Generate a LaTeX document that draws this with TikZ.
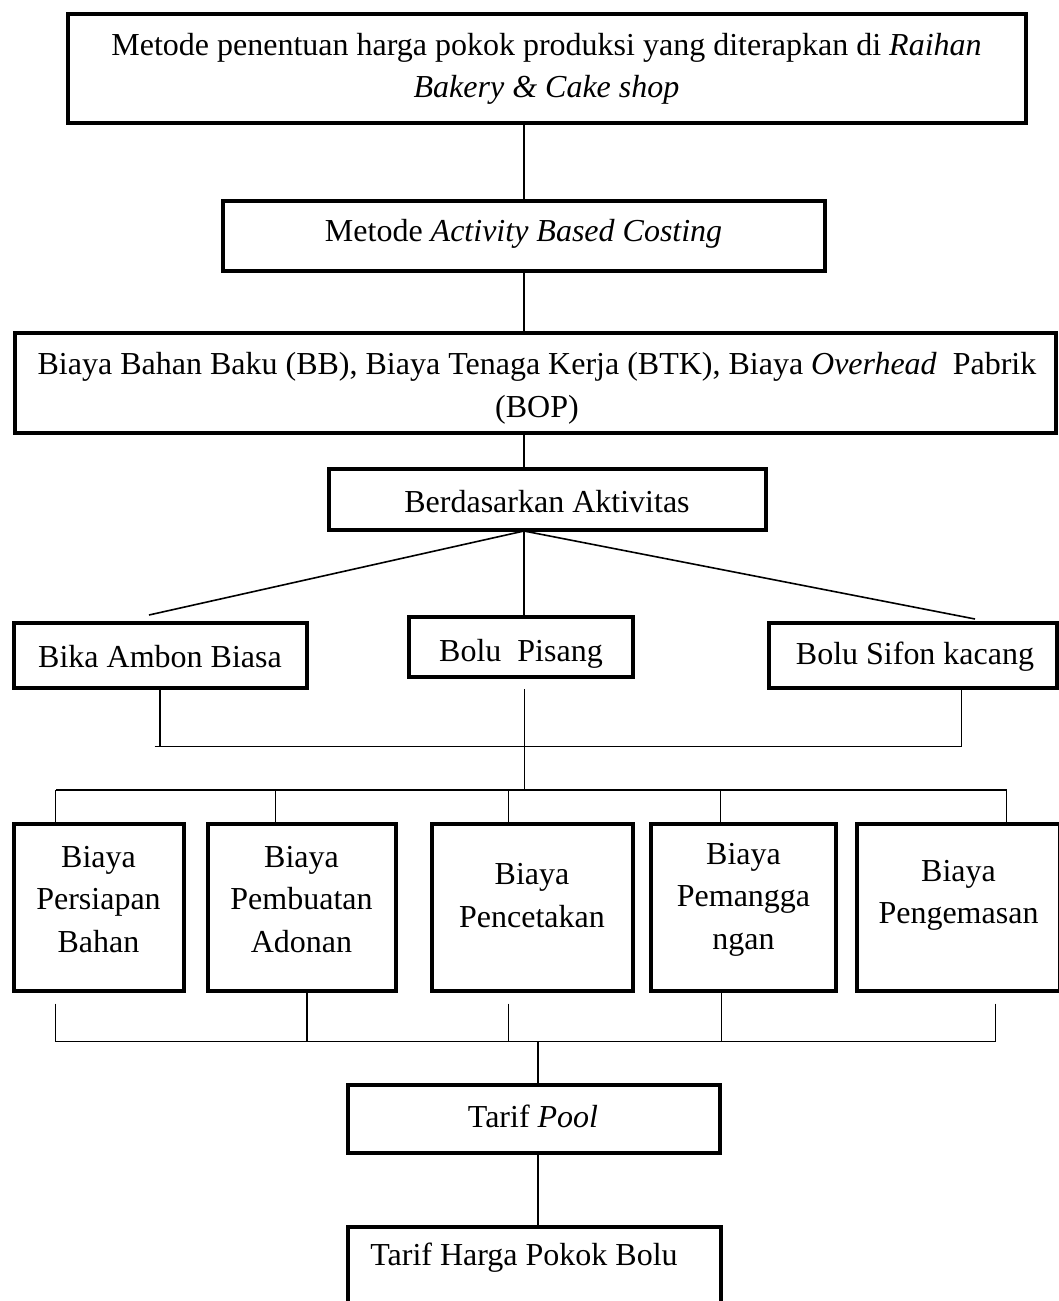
\documentclass[tikz,border=0pt]{standalone}
\usepackage{fontspec}
\setmainfont{Liberation Serif}
\begin{document}
\begin{tikzpicture}[x=1pt,y=-1pt,
  box/.style={draw, line width=4pt, inner sep=0pt, fill=none},
  txt/.style={inner sep=0pt, align=center, font=\fontsize{32}{42.5}\selectfont, yshift=-3.5pt},
  conn/.style={line width=1.3pt},
  diag/.style={line width=1.6pt}]
\useasboundingbox (0,0) rectangle (1059,1301);
\clip (0,0) rectangle (1059,1301);
% boxes
\node[box, minimum width=958pt, minimum height=109pt] (b1) at (546.5,68.5) {};
\node[box, minimum width=602.5pt, minimum height=70.5pt] (b2) at (523.75,235.75) {};
\node[box, minimum width=1040.5pt, minimum height=100pt] (b3) at (535.25,382.5) {};
\node[box, minimum width=437pt, minimum height=61pt] (b4) at (547,499) {};
\node[box, minimum width=293pt, minimum height=65pt] (bika) at (160,655) {};
\node[box, minimum width=224.5pt, minimum height=60pt] (pisang) at (520.75,646.5) {};
\node[box, minimum width=288pt, minimum height=65pt] (sifon) at (912.5,655) {};
\node[box, minimum width=170pt, minimum height=167.5pt] (cA) at (98.5,907.25) {};
\node[box, minimum width=188pt, minimum height=167.5pt] (cB) at (301.5,907.25) {};
\node[box, minimum width=201.5pt, minimum height=167.5pt] (cC) at (532.25,907.25) {};
\node[box, minimum width=185pt, minimum height=167.5pt] (cD) at (743.5,907.25) {};
\node[box, minimum width=203.5pt, minimum height=167.5pt] (cE) at (958.25,907.25) {};
\node[box, minimum width=371.5pt, minimum height=68pt] (pool) at (533.75,1118.5) {};
\node[box, minimum width=372.5pt, minimum height=93.5pt] (harga) at (534.25,1273.25) {};
% texts
\node[txt] (t1) at (546.5,65.3) {Metode penentuan harga pokok produksi yang diterapkan di \textit{Raihan}\\\textit{Bakery \& Cake shop}};
\node[txt] (t2) at (523.6,230) {Metode \textit{Activity Based Costing}};
\node[txt] (t3) at (537,385) {Biaya Bahan Baku (BB), Biaya Tenaga Kerja (BTK), Biaya \textit{Overhead}\ \ Pabrik\\(BOP)};
\node[txt] (t4) at (547,498) {Berdasarkan Aktivitas};
\node[txt] (tbika) at (160,653) {Bika Ambon Biasa};
\node[txt] (tpisang) at (521,650) {Bolu\ \ Pisang};
\node[txt] (tsifon) at (915,653) {Bolu Sifon kacang};
\node[txt] (tA) at (98.5,896) {Biaya\\Persiapan\\Bahan};
\node[txt] (tB) at (301.5,896) {Biaya\\Pembuatan\\Adonan};
\node[txt] (tC) at (532,892) {Biaya\\Pencetakan};
\node[txt] (tD) at (743.5,896) {Biaya\\Pemangga\\ngan};
\node[txt] (tE) at (958.5,892) {Biaya\\Pengemasan};
\node[txt] (tpool) at (533,1113) {Tarif \textit{Pool}};
\node[txt] (tharga) at (524,1254) {Tarif Harga Pokok Bolu};
% coordinates
\coordinate (cx) at (524,0);
\coordinate (j4) at (524,531);
\coordinate (dl) at (149,615);
\coordinate (dr) at (975,619);
\coordinate (h1L) at (154.5,746.7);
\coordinate (h1R) at (961.7,746.7);
\coordinate (p0) at (524.7,689.4);
\coordinate (p1) at (524.7,790);
\coordinate (t0) at (55.8,790);
\coordinate (tb) at (275.5,790);
\coordinate (tc) at (508.8,790);
\coordinate (td) at (720.7,790);
\coordinate (t9) at (1006.7,790);
\coordinate (u0) at (55.8,1041.5);
\coordinate (ub) at (307,1041.5);
\coordinate (uc) at (508.8,1041.5);
\coordinate (ud) at (721.7,1041.5);
\coordinate (u9) at (995.5,1041.5);
\coordinate (up) at (538,1041.5);
\coordinate (gap) at (0,1003.7);
% connectors
\draw[conn] (b1.south -| cx) -- (b2.north -| cx);
\draw[conn] (b2.south -| cx) -- (b3.north -| cx);
\draw[conn] (b3.south -| cx) -- (b4.north -| cx);
\draw[diag] (j4) -- (dl);
\draw[diag] (j4) -- (dr);
\draw[conn] (j4) -- (pisang.north -| j4);
\draw[conn] (bika.south) -- (bika.south |- h1L);
\draw[conn] (sifon.south -| h1R) -- (h1R);
\draw[conn] (h1L) -- (h1R);
\draw[conn] (p0) -- (p1);
\draw[conn] (t0) -- (t9);
\draw[conn] (t0) -- (cA.north -| t0);
\draw[conn] (tb) -- (cB.north -| tb);
\draw[conn] (tc) -- (cC.north -| tc);
\draw[conn] (td) -- (cD.north -| td);
\draw[conn] (t9) -- (cE.north -| t9);
\draw[conn] (u0) -- (u9);
\draw[conn] (gap -| u0) -- (u0);
\draw[conn] (cB.south -| ub) -- (ub);
\draw[conn] (gap -| uc) -- (uc);
\draw[conn] (cD.south -| ud) -- (ud);
\draw[conn] (gap -| u9) -- (u9);
\draw[conn] (up) -- (pool.north -| up);
\draw[conn] (pool.south -| up) -- (harga.north -| up);
\end{tikzpicture}
\end{document}
